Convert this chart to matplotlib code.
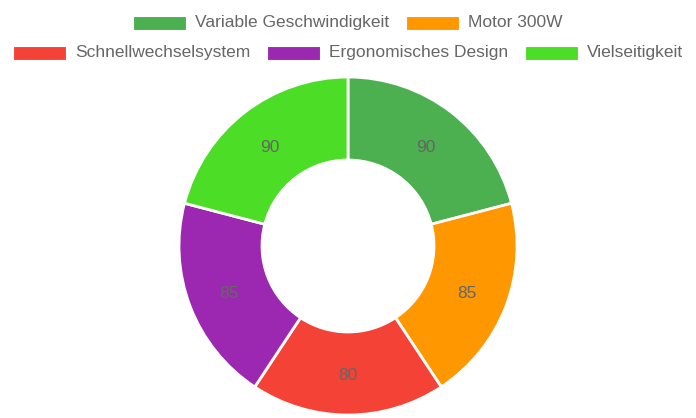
import matplotlib
matplotlib.use("Agg")
from matplotlib import pyplot as plt
from matplotlib.patches import Rectangle

plt.rcParams['font.family'] = ['Liberation Sans', 'DejaVu Sans']

# data
categories = ['Variable Geschwindigkeit', 'Motor 300W', 'Schnellwechselsystem',
              'Ergonomisches Design', 'Vielseitigkeit']
values = [90, 85, 80, 85, 90]
colors = ['#4CAF50', '#FF9800', '#F44336', '#9C27B0', '#4CDD27']
legend_rows = [[0, 1], [2, 3, 4]]

W, H = 696, 418
fig = plt.figure(figsize=(W / 100, H / 100), dpi=100)
ax = fig.add_axes([0, 0, 1, 1])

# donut
cx, cy, r_out, r_in = 348, H - 246, 169, 86
total = sum(values)
wedges, texts, autotexts = ax.pie(
    values, colors=colors, startangle=90, counterclock=False,
    center=(cx, cy), radius=r_out, frame=True,
    wedgeprops=dict(width=r_out - r_in, edgecolor='white', linewidth=2),
    autopct=lambda p: '%.0f' % (p * total / 100.0),
    pctdistance=(r_out + r_in) / 2.0 / r_out,
    textprops=dict(color='#666666', fontsize=12.5))
for t in autotexts:
    x, y = t.get_position()
    t.set_position((x, y - 2))
ax.set_xlim(0, W)
ax.set_ylim(0, H)
ax.set_aspect('equal')
ax.axis('off')

# legend (drawn by hand, rows centred like the original)
fs = 12.5
box_w, box_h, txt_gap, item_gap = 53, 14, 9, 17
row_y = [22.5, 52.5]
fig.canvas.draw()
renderer = fig.canvas.get_renderer()
for row, y in zip(legend_rows, row_y):
    widths = []
    for i in row:
        t = ax.text(0, 0, categories[i], fontsize=fs)
        widths.append(t.get_window_extent(renderer).width)
        t.remove()
    total_w = sum(box_w + txt_gap + w for w in widths) + item_gap * (len(row) - 1)
    x = cx - total_w / 2.0
    for i, w in zip(row, widths):
        ax.add_patch(Rectangle((x, H - y - box_h / 2.0), box_w, box_h,
                               facecolor=colors[i], edgecolor='white', linewidth=0.8))
        ax.text(x + box_w + txt_gap, H - y, categories[i], fontsize=fs,
                color='#666666', va='center', ha='left')
        x += box_w + txt_gap + w + item_gap

fig.savefig('out.png', dpi=100)
